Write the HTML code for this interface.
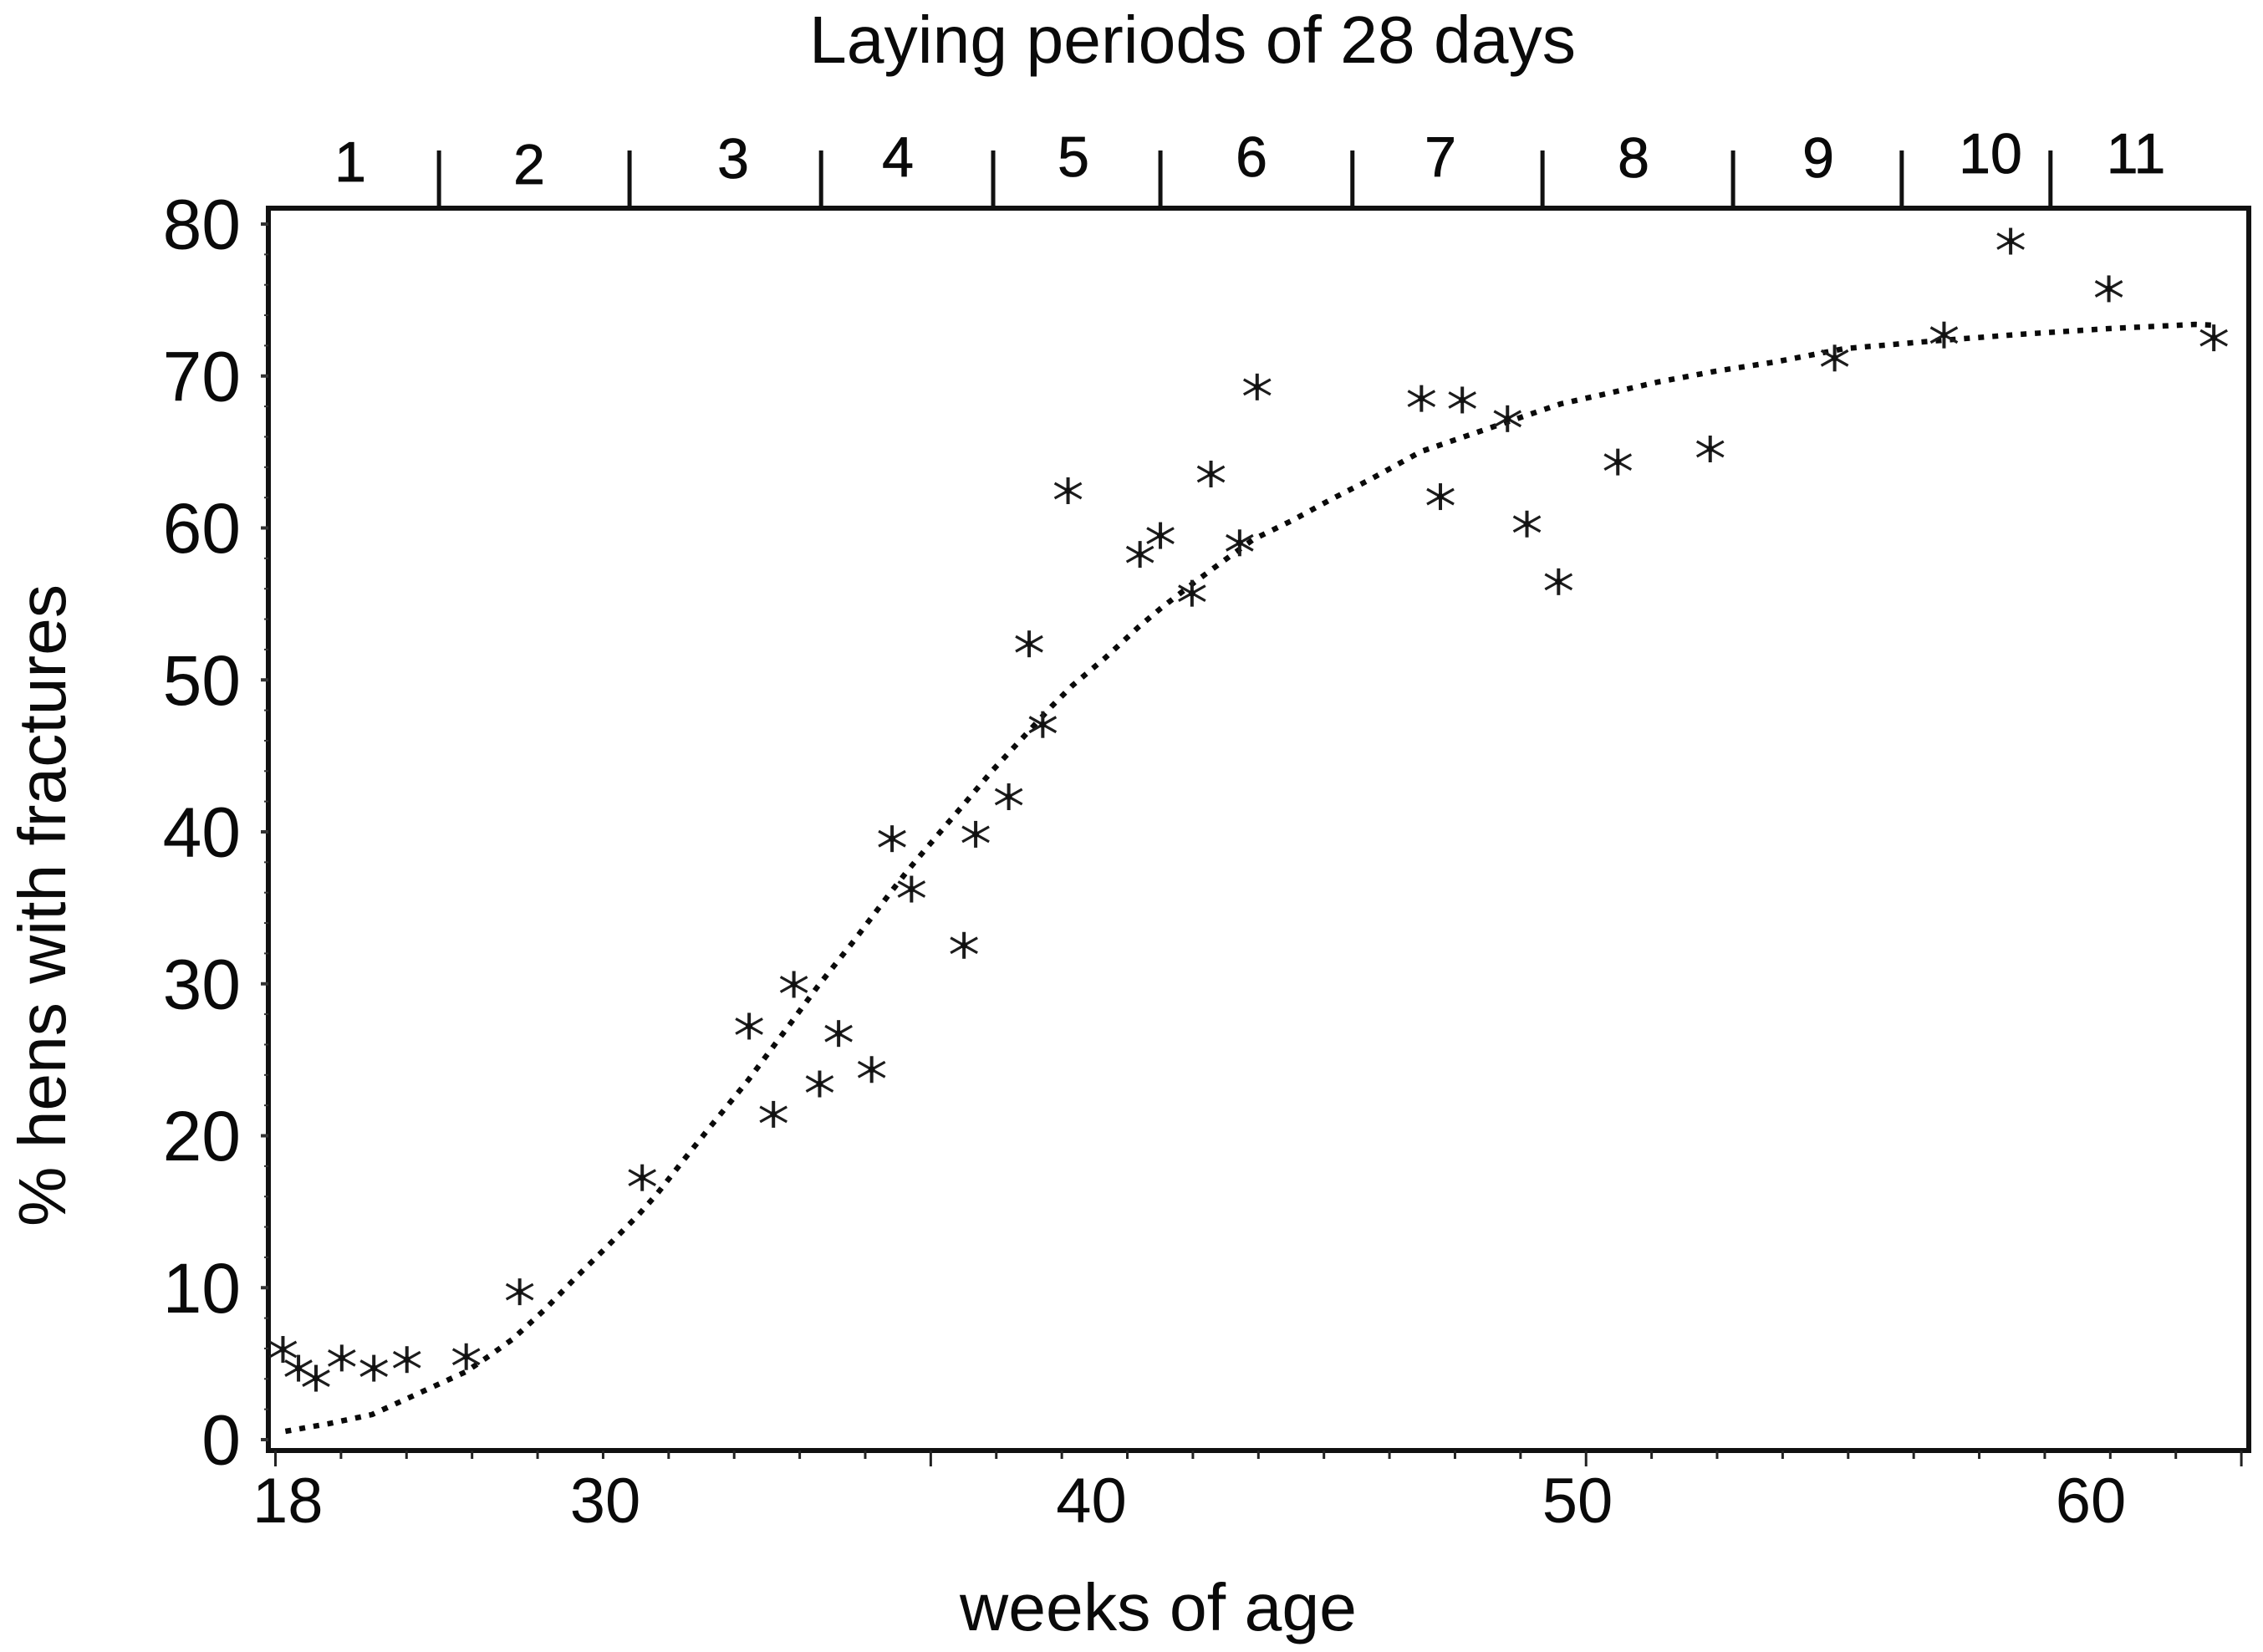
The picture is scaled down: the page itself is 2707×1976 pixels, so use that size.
<!DOCTYPE html>
<html lang="en">
<head>
<meta charset="utf-8">
<title>Hens with fractures by age</title>
<style>
  html, body { margin: 0; padding: 0; background: #fff; }
  svg { display: block; }
  text { font-family: "Liberation Sans", sans-serif; fill: #0a0a0a; }
</style>
</head>
<body>
<svg id="chart" xmlns="http://www.w3.org/2000/svg" width="2707" height="1976" viewBox="0 0 2707 1976">
  <rect width="2707" height="1976" fill="#fff"/>
  <text x="968" y="75" font-size="80" textLength="917" lengthAdjust="spacingAndGlyphs">Laying periods of 28 days</text>
  <text x="1148" y="1950" font-size="80" textLength="475" lengthAdjust="spacingAndGlyphs">weeks of age</text>
  <text transform="translate(78,1467) rotate(-90)" font-size="80" textLength="768" lengthAdjust="spacingAndGlyphs">% hens with fractures</text>
  <g id="period-labels" font-size="68" text-anchor="middle" stroke="#0a0a0a" stroke-width="0.8">
    <text x="419" y="217">1</text>
    <text x="633" y="220">2</text>
    <text x="877" y="213">3</text>
    <text x="1074" y="211">4</text>
    <text x="1284" y="211">5</text>
    <text x="1497" y="211">6</text>
    <text x="1723" y="211">7</text>
    <text x="1954" y="212">8</text>
    <text x="2175" y="212">9</text>
    <text x="2381" y="207">10</text>
    <text x="2555" y="207">11</text>
  </g>
  <g id="marks"></g>
</svg>
<script>
const fractureWeeks = [23.37,23.69,24.05,24.58,25.24,25.92,27.14,28.24,30.76,32.96,33.46,33.88,34.41,34.80,35.48,35.90,36.30,37.38,37.62,38.30,38.72,39.00,39.52,41.00,41.42,42.07,42.46,43.05,43.41,46.79,47.18,47.63,48.56,48.96,49.61,50.83,52.73,55.29,57.54,58.91,60.93,63.09];
const fracturePercent = [5.94,4.70,4.04,5.37,4.70,5.27,5.46,9.73,17.24,27.21,21.41,29.96,23.41,26.73,24.36,39.55,36.23,32.53,39.84,42.31,52.37,47.06,62.45,58.26,59.50,55.70,63.55,59.02,69.28,68.52,62.06,68.42,67.19,60.26,56.46,64.34,65.20,71.18,72.70,78.87,75.74,72.51];
const fitWeeks = [23.42,24.31,25.20,26.15,27.13,27.61,28.09,28.76,29.38,30.02,30.67,31.08,31.62,32.17,32.94,33.66,34.37,35.12,35.86,36.21,36.60,37.38,37.96,38.58,39.18,39.61,40.28,40.97,41.42,42.11,42.86,43.34,44.15,44.94,45.75,46.78,47.94,48.80,49.66,50.52,51.65,52.85,54.06,55.49,57.31,59.08,60.94,62.71,63.09];
const fitPercent = [0.55,1.05,1.65,3.03,4.46,5.50,6.60,8.58,10.62,12.65,14.75,16.23,18.43,20.63,23.66,26.74,29.82,32.85,35.98,37.41,38.90,41.82,44.02,46.16,48.25,49.63,51.44,53.48,54.69,56.40,58.16,59.26,60.52,61.90,63.22,65.03,66.30,67.24,68.17,68.78,69.60,70.32,70.92,71.80,72.30,72.74,73.12,73.40,73.34];
const periodEndWeeks = [26.58,30.50,34.44,37.98,41.42,45.37,49.28,53.20,56.67,59.73];
const yTickValues = [0,10,20,30,40,50,60,70,80];
const xTickLabels = ['18','30','40','50','60'];
const xTickLabelWeeks = [23.47,30,40,50,60.56];
const xTickCount = 31;
const xTickStart = 23.216;
const xTickStep = 1.348;

const NS = 'http://www.w3.org/2000/svg';
const marks = document.getElementById('marks');
const frameLeft = 321, frameRight = 2690, frameTop = 249, frameBottom = 1735;
function x(w) { return 724 + (w - 30) * 58.15; }
function y(v) { return 1722 - v * 18.175; }
function make(tag, attrs, parent) {
  const el = document.createElementNS(NS, tag);
  for (const k in attrs) el.setAttribute(k, attrs[k]);
  (parent || marks).appendChild(el);
  return el;
}

// frame
const frame = make('rect', {x: frameLeft, y: frameTop, width: frameRight - frameLeft, height: frameBottom - frameTop, fill: 'none', stroke: '#111', 'stroke-width': 6});



// y ticks and labels
for (let v = 0; v <= 80; v += 2) {
  const major = v % 10 === 0;
  const t = make('line', {x1: major ? 312 : 316, x2: frameLeft, y1: y(v), y2: y(v), stroke: '#333', 'stroke-width': major ? 4 : 2});
  
  
}
yTickValues.forEach(function (v) {
  const t = make('text', {x: 288, y: y(v) + 29.5, 'font-size': 84, 'text-anchor': 'end'});
  t.textContent = String(v);
  
  
});

// x ticks and labels
for (let i = 0; i < xTickCount; i++) {
  const px = x(xTickStart + i * xTickStep);
  const major = i % 10 === 0;
  const t = make('line', {x1: px, x2: px, y1: frameBottom, y2: major ? 1754 : 1745, stroke: '#222', 'stroke-width': 3});
  
  
}
xTickLabels.forEach(function (label, i) {
  const t = make('text', {x: x(xTickLabelWeeks[i]), y: 1821, 'font-size': 76, 'text-anchor': 'middle'});
  t.textContent = label;
  
  
});

// laying period boundaries
periodEndWeeks.forEach(function (w) {
  const t = make('line', {x1: x(w), x2: x(w), y1: 180, y2: frameTop, stroke: '#111', 'stroke-width': 5});
  
  
});

// fitted curve
const curvePoints = fitWeeks.map(function (w, i) { return x(w).toFixed(1) + ',' + y(fitPercent[i]).toFixed(1); }).join(' ');
const curve = make('polyline', {points: curvePoints, fill: 'none', stroke: '#0a0a0a', 'stroke-width': 6.5, 'stroke-dasharray': '7 10', 'stroke-linejoin': 'round'});



// observations
fractureWeeks.forEach(function (w, i) {
  const cx = x(w), cy = y(fracturePercent[i]);
  const g = make('g', {stroke: '#1c1c1c', fill: 'none'});
  
  
  make('line', {x1: cx, y1: cy - 16, x2: cx, y2: cy + 16, 'stroke-width': 4}, g);
  make('line', {x1: cx - 16, y1: cy - 9, x2: cx + 16, y2: cy + 9, 'stroke-width': 3.2}, g);
  make('line', {x1: cx - 16, y1: cy + 9, x2: cx + 16, y2: cy - 9, 'stroke-width': 3.2}, g);
  make('circle', {cx: cx, cy: cy, r: 4, fill: '#111', stroke: 'none'}, g);
});
</script>
</body>
</html>
